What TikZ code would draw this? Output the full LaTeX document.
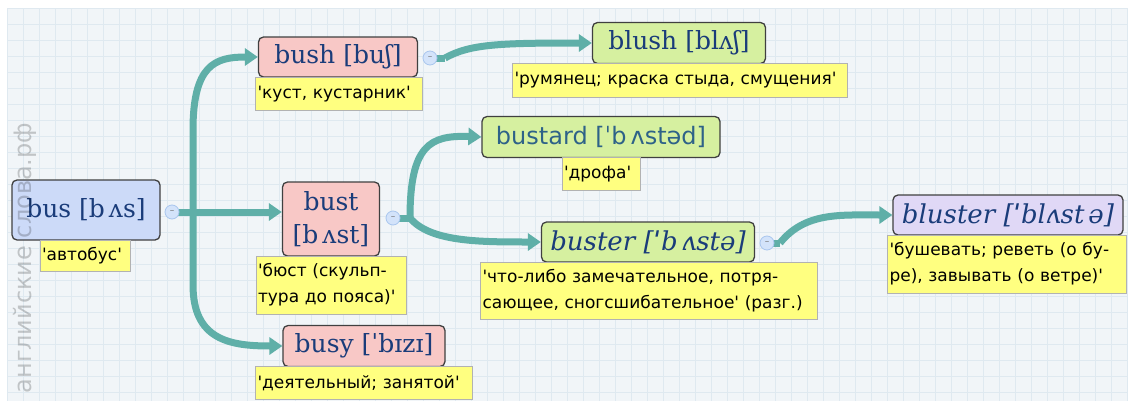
\documentclass[tikz,border=0pt]{standalone}
\usepackage{fontspec}
\setmainfont{DejaVu Sans}
\newfontfamily\headfont{DejaVu Serif}
\newfontfamily\labfont{DejaVu Sans}
\usetikzlibrary{arrows.meta}
\definecolor{bgc}{HTML}{F1F5F8}
\definecolor{gridc}{HTML}{DFE9F0}
\definecolor{teal1}{HTML}{5FAFA8}
\definecolor{blueN}{HTML}{CCDAF8}
\definecolor{pinkN}{HTML}{F8C8C6}
\definecolor{greenN}{HTML}{D6F0A0}
\definecolor{lilacN}{HTML}{E0D8F6}
\definecolor{yel}{HTML}{FFFF80}
\definecolor{headtxt}{HTML}{1A3C7A}
\definecolor{headtxt2}{HTML}{2E6288}
\definecolor{minusf}{HTML}{D3E3FA}
\definecolor{minusd}{HTML}{A9C6EE}
\newcommand{\gp}{\hspace{4pt}}
\tikzset{
  wordbox/.style={draw=black!75, line width=1.3pt, rounded corners=5pt, inner sep=0pt, align=center,
    text=headtxt, font=\headfont\fontsize{25}{33}\selectfont},
  labbox/.style={draw=black!30, fill=yel, line width=0.8pt, inner xsep=2pt, inner ysep=2pt, align=left,
    font=\labfont\fontsize{17}{26}\selectfont, text=black},
  minus/.style={circle, draw=minusd, fill=minusf, line width=0.8pt, minimum size=14pt, inner sep=0pt,
    font=\fontsize{9}{9}\selectfont, text=black!55},
  conn/.style={draw=teal1, line width=7pt, -{Triangle[length=13pt,width=17pt]}},
  trunk/.style={draw=teal1, line width=7pt},
  itword/.style={font=\headfont\itshape\fontsize{26}{28}\selectfont},
}
\begin{document}
\begin{tikzpicture}[x=1pt,y=-1pt]
\useasboundingbox (0,0) rectangle (1128,407);
\fill[white] (0,0) rectangle (1128,407);
\fill[bgc] (7,8) rectangle (1128,401);
\begin{scope}
\clip (7,8) rectangle (1128,401);
\foreach \i in {0,...,70} {\draw[gridc, line width=0.8pt] (7+16*\i,8) -- (7+16*\i,401);}
\foreach \j in {0,...,25} {\draw[gridc, line width=0.8pt] (7,8+16*\j) -- (1128,8+16*\j);}
\end{scope}

% word nodes
\node[wordbox, fill=blueN, minimum width=148pt, minimum height=60pt] (bus) at (86,210) {\raisebox{4pt}{bus [b\gp ʌs]}};
\node[labbox, text width=86pt, minimum height=31pt] (busl) at (85,256) {'автобус'};

\node[wordbox, fill=pinkN, minimum width=159pt, minimum height=40pt] (bush) at (338,57) {bush [buʃ]};
\node[labbox, text width=163pt, minimum height=33pt] (bushl) at (339,94) {'куст, кустарник'};

\node[wordbox, fill=pinkN, minimum width=97pt, minimum height=74pt] (bust) at (331,219) {bust\\{}[b\gp ʌst]};
\node[labbox, text width=146pt, minimum height=58pt] (bustl) at (331,285) {'бюст (скульп-\\тура до пояса)'};

\node[wordbox, fill=pinkN, minimum width=162pt, minimum height=41pt] (busy) at (364,346) {busy [ˈbɪzɪ]};
\node[labbox, text width=213pt, minimum height=33pt] (busyl) at (364,383) {'деятельный; занятой'};

\node[wordbox, fill=greenN, minimum width=173pt, minimum height=41pt] (blush) at (679,43) {blush [blʌʃ]};
\node[labbox, text width=331pt, minimum height=34pt] (blushl) at (680,80) {'румянец; краска стыда, смущения'};

\node[wordbox, fill=greenN, minimum width=238pt, minimum height=41pt, text=headtxt2, font=\labfont\fontsize{24}{28}\selectfont] (bustard) at (601,137) {bustard [ˈb\gp ʌstəd]};
\node[labbox, text width=74pt, minimum height=33pt] (bustardl) at (601,174) {'дрофа'};

\node[wordbox, fill=greenN, minimum width=213pt, minimum height=40pt, itword] (buster) at (648,242) {buster [ˈb\gp ʌstə]};
\node[labbox, text width=333pt, minimum height=57pt] (busterl) at (649,291) {'что-либо замечательное, потря-\\сающее, сногсшибательное' (разг.)};

\node[wordbox, fill=lilacN, minimum width=230pt, minimum height=40pt, itword] (bluster) at (1008,215) {bluster [ˈblʌst\gp ə]};
\node[labbox, text width=235pt, minimum height=58pt] (blusterl) at (1007,264) {'бушевать; реветь (о бу-\\ре), завывать (о ветре)'};

% junctions
\coordinate (j1) at (193,212);
\coordinate (j2) at (410,218);
\coordinate (j3) at (445,58);
\coordinate (j4) at (780,243);

% connectors
\draw[conn] (j1) -- (193,130) .. controls (193,65) and (215,57) .. (bush.west);
\draw[conn] (j1) -- (193,285) .. controls (193,340) and (230,346) .. (busy.west);
\draw[trunk] (172,212) -- (j1);
\draw[conn] (j1) -- (j1 -| bust.west);
\draw[conn] (j2) .. controls (410,145) and (430,135) .. (bustard.west);
\draw[conn] (j2) .. controls (430,242) and (480,242) .. (buster.west);
\draw[trunk] (393,218) -- (j2);
\draw[trunk] (430,58) -- (j3);
\draw[conn] (j3) .. controls (470,44) and (500,43) .. (blush.west);
\draw[trunk] (767,243) -- (j4);
\draw[conn] (j4) .. controls (805,212) and (840,215) .. (bluster.west);

% minus markers
\node[minus] (m1) at (172,212) {–};
\node[minus] (m2) at (430,58) {–};
\node[minus] (m3) at (393,218) {–};
\node[minus] (m4) at (767,243) {–};

% watermark
\node[rotate=90, text=black, opacity=0.2, font=\labfont\fontsize{24}{24}\selectfont] (wm) at (25,258) {английские слова.рф};
\end{tikzpicture}
\end{document}
